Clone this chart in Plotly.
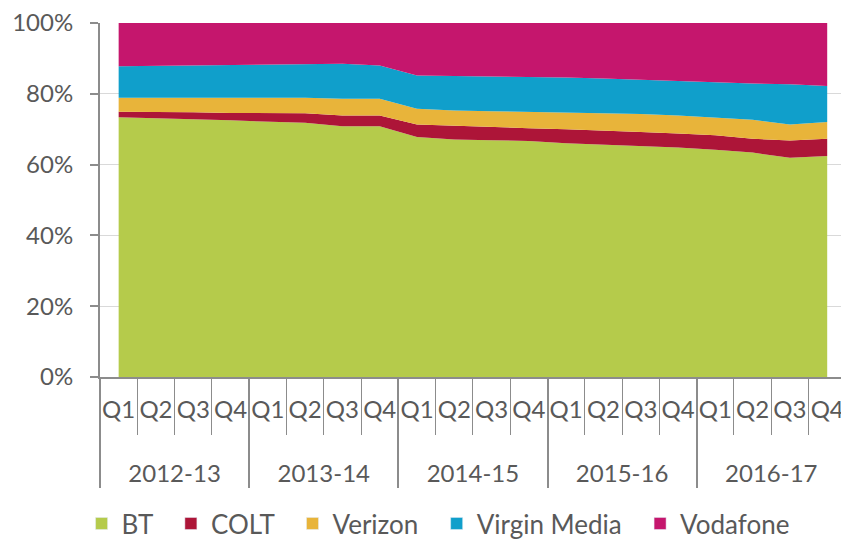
import plotly.graph_objects as go

years = ["2012-13", "2013-14", "2014-15", "2015-16", "2016-17"]
quarters = ["Q1", "Q2", "Q3", "Q4"]

bt = [73.4, 73.2, 72.8, 72.5, 72.2, 71.8, 70.8, 70.8, 67.8, 67.1,
      66.9, 66.7, 66.0, 65.6, 65.3, 64.8, 64.2, 63.4, 61.9, 62.4]
colt = [1.5, 1.7, 2.0, 2.1, 2.4, 2.7, 3.1, 3.1, 3.5, 3.8,
        3.7, 3.6, 4.0, 4.1, 3.9, 4.0, 4.1, 3.9, 4.9, 4.9]
verizon = [4.0, 4.0, 4.1, 4.3, 4.3, 4.4, 4.7, 4.7, 4.5, 4.4,
           4.5, 4.6, 4.7, 4.9, 5.1, 5.1, 5.1, 5.4, 4.5, 4.7]
virgin_media = [8.9, 9.0, 9.1, 9.1, 9.2, 9.3, 9.9, 9.4, 9.4, 9.7,
                9.8, 10.0, 9.9, 9.7, 9.6, 9.6, 9.8, 10.2, 11.4, 10.2]
vodafone = [12.2, 12.1, 12.0, 12.0, 11.9, 11.8, 11.5, 12.0, 14.8, 15.0,
            15.1, 15.1, 15.4, 15.7, 16.1, 16.5, 16.8, 17.1, 17.3, 17.8]

series = [
    ("BT", bt, "#B5CB4B"),
    ("COLT", colt, "#AD1538"),
    ("Verizon", verizon, "#E8B43A"),
    ("Virgin Media", virgin_media, "#109FCB"),
    ("Vodafone", vodafone, "#C5166D"),
]

x_outer = [y for y in years for _ in quarters]
# quarter labels carry a blank second line so the year row sits lower
x_inner = [q + "<br><span style='font-size:60px'>\u00a0</span>"
           for _ in years for q in quarters]

fig = go.Figure()
for name, vals, color in series:
    fig.add_trace(go.Scatter(
        x=[x_outer, x_inner], y=vals, name=name,
        mode="lines", stackgroup="one", groupnorm="percent",
        line=dict(width=0, color=color), fillcolor=color,
        showlegend=False,
    ))
for i, (name, vals, color) in enumerate(series):
    pad = "\u00a0\u00a0" if i < len(series) - 1 else ""
    fig.add_trace(go.Bar(
        x=[[None], [None]], y=[None], name=name + pad,
        marker=dict(color=color), showlegend=True,
    ))

axis_gray = "#8C8C8C"
text_gray = "#595959"
font_family = "Lato"

fig.update_layout(
    width=841, height=542,
    margin=dict(l=100, r=0, t=23, b=165, autoexpand=False),
    paper_bgcolor="white", plot_bgcolor="white",
    font=dict(family=font_family, size=24, color=text_gray),
    legend=dict(
        orientation="h", xref="container", yref="container",
        x=0.097, y=0.034, xanchor="left", yanchor="middle",
        font=dict(size=26, color=text_gray), itemwidth=30,
        traceorder="normal", tracegroupgap=0,
    ),
    barmode="overlay",
)
fig.update_yaxes(
    range=[0, 100], dtick=20, ticksuffix="%",
    showgrid=True, gridcolor="#D9D9D9", gridwidth=1,
    showline=True, linecolor=axis_gray, linewidth=2,
    ticks="outside", ticklen=8, tickcolor=axis_gray, tickwidth=2,
    ticklabelstandoff=12, automargin=False,
    tickfont=dict(size=24, color=text_gray),
    zeroline=False,
)
fig.update_xaxes(
    type="multicategory", range=[-0.5, 19.37],
    showline=True, linecolor=axis_gray, linewidth=2,
    ticks="outside", tickson="boundaries", ticklen=56,
    tickcolor=axis_gray, tickwidth=1, tickangle=0,
    showdividers=True, dividercolor=axis_gray, dividerwidth=2,
    tickfont=dict(size=24, color=text_gray), automargin=False,
    ticklabelstandoff=10,
    showgrid=False,
)

fig.write_html(
    "out.html",
    config={"displayModeBar": False},
    post_script="document.body.style.margin='0';",
)
